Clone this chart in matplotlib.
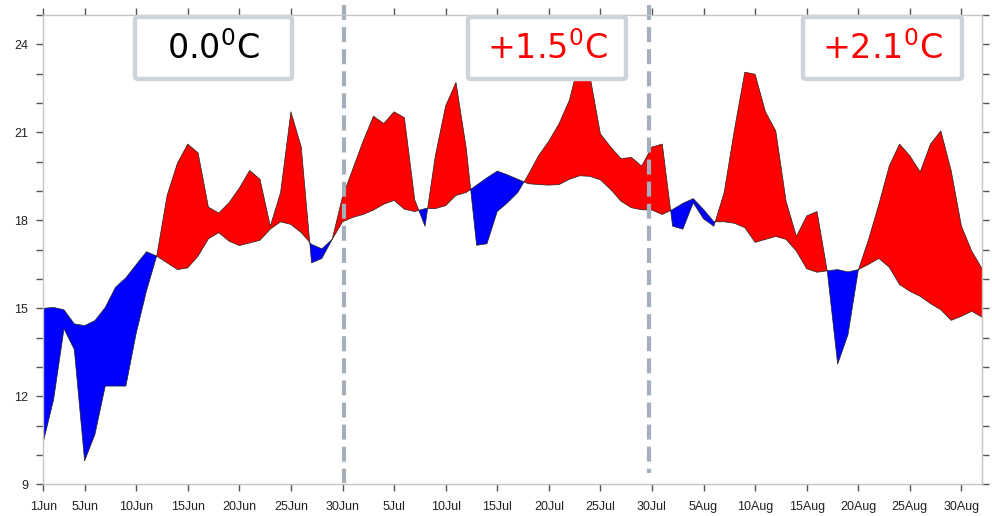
import numpy as np
import matplotlib.pyplot as plt
from matplotlib.patches import FancyBboxPatch
from matplotlib.transforms import blended_transform_factory

# daily values, 1 Jun - end Aug (30-day months on the axis)
obs = [10.45, 11.9, 14.3, 13.6, 9.8, 10.7, 12.35, 12.35, 12.35, 14.15,
       15.6, 16.8, 18.85, 19.95, 20.6, 20.3, 18.45, 18.25, 18.6, 19.1,
       19.7, 19.4, 17.8, 18.95, 21.7, 20.5, 16.55, 16.7, 17.35, 18.8,
       19.75, 20.7, 21.55, 21.3, 21.7, 21.5, 18.7, 17.8, 20.2, 21.9,
       22.7, 20.45, 17.15, 17.2, 18.3, 18.6, 18.95, 19.55, 20.2, 20.7,
       21.3, 22.1, 23.5, 22.9, 20.95, 20.5, 20.1, 20.15, 19.85, 20.5,
       20.6, 17.8, 17.7, 18.6, 18.05, 17.8, 18.95, 21.1, 23.05, 22.98,
       21.7, 21.05, 18.65, 17.45, 18.15, 18.3, 16.25, 13.1, 14.1, 16.3,
       17.35, 18.55, 19.85, 20.6, 20.2, 19.65, 20.6, 21.05, 19.7, 17.8,
       16.95, 16.35]
clim = [15.0, 15.03, 14.95, 14.47, 14.41, 14.58, 15.03, 15.72, 16.04, 16.49,
        16.93, 16.78, 16.55, 16.32, 16.38, 16.78, 17.37, 17.58, 17.29, 17.14,
        17.23, 17.32, 17.7, 17.95, 17.86, 17.58, 17.18, 17.03, 17.35, 17.95,
        18.1, 18.2, 18.35, 18.55, 18.68, 18.38, 18.3, 18.4, 18.4, 18.5,
        18.85, 18.95, 19.2, 19.45, 19.68, 19.55, 19.4, 19.25, 19.22, 19.2,
        19.22, 19.4, 19.52, 19.5, 19.38, 19.05, 18.65, 18.43, 18.36, 18.35,
        18.2, 18.37, 18.58, 18.74, 18.37, 17.95, 17.95, 17.9, 17.75, 17.25,
        17.35, 17.45, 17.35, 16.95, 16.35, 16.23, 16.28, 16.32, 16.24, 16.32,
        16.5, 16.7, 16.4, 15.81, 15.58, 15.41, 15.16, 14.95, 14.59, 14.73,
        14.9, 14.7]

tick_days = [0, 4, 9, 14, 19, 24, 29, 34, 39, 44, 49, 54, 59, 64, 69, 74, 79, 84, 89]
tick_labels = ['1Jun', '5Jun', '10Jun', '15Jun', '20Jun', '25Jun', '30Jun',
               '5Jul', '10Jul', '15Jul', '20Jul', '25Jul', '30Jul',
               '5Aug', '10Aug', '15Aug', '20Aug', '25Aug', '30Aug']
anomalies = [r'0.0$^\mathregular{0}$C', r'+1.5$^\mathregular{0}$C', r'+2.1$^\mathregular{0}$C']
anom_colors = ['black', 'red', 'red']
split_days = [29.1, 58.7]

obs = np.array(obs)
clim = np.array(clim)
x = np.arange(len(obs))

plt.rcParams['mathtext.fontset'] = 'dejavusans'

fig = plt.figure(figsize=(9.92, 5.16), dpi=100)
ax = fig.add_axes([0.0437, 0.0614, 0.9463, 0.9095])

ax.fill_between(x, obs, clim, where=obs >= clim, interpolate=True,
                color='#ff0000', linewidth=0)
ax.fill_between(x, obs, clim, where=obs <= clim, interpolate=True,
                color='#0000ff', linewidth=0)
ax.plot(x, obs, color='#222222', lw=0.5)
ax.plot(x, clim, color='#222222', lw=0.5)

ax.set_xlim(0, 91)
ax.set_ylim(9, 25)
ax.set_yticks(np.arange(9, 25, 3))
ax.set_yticks(np.arange(9, 26, 1), minor=True)
ax.set_xticks(tick_days)
ax.set_xticklabels(tick_labels)

for s in ax.spines.values():
    s.set_color('#c4c4c4')
    s.set_linewidth(1)
ax.tick_params(which='both', direction='out', length=5, width=1, color='#555555',
               top=True, right=True, labelsize=9, labelcolor='#222222')
ax.tick_params(axis='x', which='minor', top=False, bottom=False)
ax.tick_params(axis='x', pad=7)
ax.tick_params(axis='y', pad=6)
for lab in ax.get_xticklabels() + ax.get_yticklabels():
    lab.set_fontfamily('Liberation Sans')

# dashed separators between months
tr = blended_transform_factory(ax.transData, ax.transAxes)
ax.plot([split_days[0]] * 2, [1.021, 0.003], transform=tr, clip_on=False,
        color='#a3afbd', lw=3, linestyle=(0, (3.6, 1.7)))
ax.plot([split_days[1]] * 2, [1.021, 0.024], transform=tr, clip_on=False,
        color='#a3afbd', lw=3, linestyle=(0, (3.6, 1.7)))

# anomaly boxes (pixel positions of the reference)
W, H = 992, 516
boxes = [(135, 292), (468, 626), (803, 962)]
for (x0, x1), txt, c in zip(boxes, anomalies, anom_colors):
    rect = FancyBboxPatch((x0 / W, (H - 79) / H), (x1 - x0) / W, 62 / H,
                          boxstyle='round,pad=0,rounding_size=0.004',
                          transform=fig.transFigure, facecolor='white',
                          edgecolor='#cdd4dc', linewidth=3.2, zorder=5)
    fig.patches.append(rect)
    fig.text((x0 + x1) / 2 / W, (H - 49) / H, txt, ha='center', va='center',
             fontsize=24, color=c, family='DejaVu Sans', zorder=6)

plt.savefig('out.png', dpi=100)
